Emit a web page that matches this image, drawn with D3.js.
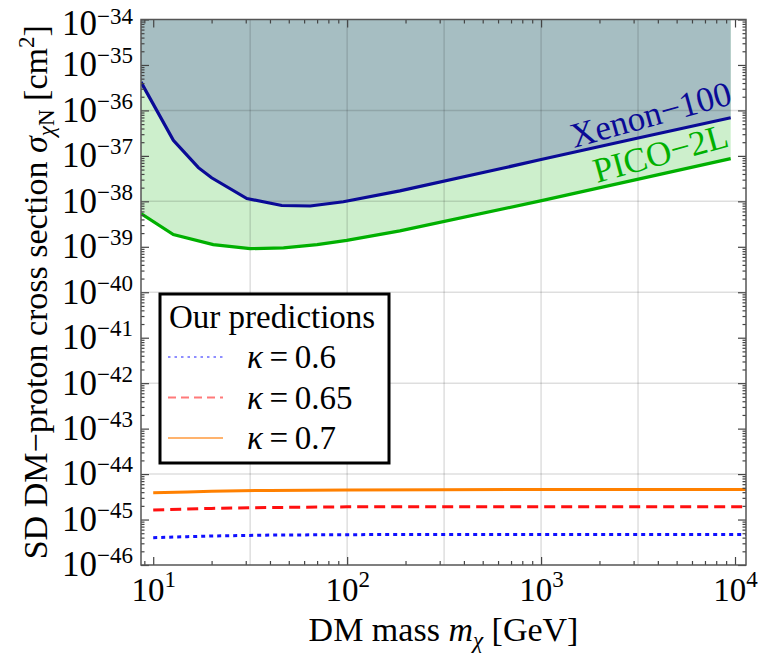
<!DOCTYPE html>
<html><head><meta charset="utf-8">
<script src="https://cdn.jsdelivr.net/npm/d3@7"></script>
<style>body{margin:0;background:#fff}svg{display:block}text{font-family:"Liberation Serif","Times New Roman",serif}</style>
</head><body><svg id="c" width="758" height="658"></svg>
<script>
// ---- data ----
const xenonMass  = [8.65, 12.7, 17.1, 20, 30.4, 46, 64.5, 95.6, 187, 615, 1000, 3000, 9500];
const xenonSigma = [4.2e-36, 2.2e-37, 5.5e-38, 3.3e-38, 1.15e-38, 8.1e-39, 7.9e-39, 9.8e-39, 1.7e-38, 5.2e-38, 8.3e-38, 2.35e-37, 6.9e-37];
const picoMass   = [8.65, 12.7, 20.4, 31.6, 47, 70, 99.5, 187, 1020, 9500];
const picoSigma  = [5.4e-39, 1.86e-39, 1.12e-39, 9.1e-40, 9.5e-40, 1.12e-39, 1.38e-39, 2.24e-39, 1.05e-38, 8.7e-38];
const predMass   = [10, 15, 20, 40, 100, 300, 1000, 3000, 12000];
const kappa06    = [4.0e-46, 4.2e-46, 4.35e-46, 4.55e-46, 4.65e-46, 4.7e-46, 4.7e-46, 4.7e-46, 4.7e-46];
const kappa065   = [1.62e-45, 1.7e-45, 1.76e-45, 1.84e-45, 1.9e-45, 1.92e-45, 1.92e-45, 1.92e-45, 1.92e-45];
const kappa07    = [3.9e-45, 4.05e-45, 4.2e-45, 4.38e-45, 4.48e-45, 4.55e-45, 4.57e-45, 4.57e-45, 4.57e-45];
const xMajor = [10, 100, 1000, 10000];
const yMajorExp = [-46,-45,-44,-43,-42,-41,-40,-39,-38,-37,-36,-35,-34];
const xGrid = [31.62, 100, 316.2, 1000, 3162];
const yGridExp = [-44,-42,-40,-38,-36];
const legendLabels = ["0.6", "0.65", "0.7"];

const FS = 34, FSS = 23;
const svg = d3.select("#c");
const L=141, R=746, T=19.5, B=565;
const x = d3.scaleLog().domain([8.65, 11394]).range([L, R]);
const y = d3.scaleLog().domain([1e-46, 1e-34]).range([B, T]);

svg.append("defs").append("clipPath").attr("id","clip")
  .append("rect").attr("x",L).attr("y",T).attr("width",R-L).attr("height",B-T);
const plot = svg.append("g").attr("clip-path","url(#clip)");

const zip = (a,b)=>a.map((v,i)=>[v,b[i]]);
const xen = zip(xenonMass, xenonSigma), pico = zip(picoMass, picoSigma);

const areaTop = d3.area().x(d=>x(d[0])).y0(T).y1(d=>y(d[1]));
plot.append("path").datum(pico).attr("d",areaTop).attr("fill","#cdefcc");
plot.append("path").datum(xen).attr("d",areaTop).attr("fill","#a6bec2");

// grid
plot.selectAll(".gx").data(xGrid).enter().append("line")
  .attr("x1",d=>x(d)).attr("x2",d=>x(d)).attr("y1",T).attr("y2",B)
  .attr("stroke","rgba(0,0,0,0.13)").attr("stroke-width",1.5);
plot.selectAll(".gy").data(yGridExp).enter().append("line")
  .attr("y1",d=>y(Math.pow(10,d))).attr("y2",d=>y(Math.pow(10,d))).attr("x1",L).attr("x2",R)
  .attr("stroke","rgba(0,0,0,0.13)").attr("stroke-width",1.5);

const line = d3.line().x(d=>x(d[0])).y(d=>y(d[1]));
plot.append("path").datum(pico).attr("d",line).attr("fill","none").attr("stroke","#00b000").attr("stroke-width",3.2);
plot.append("path").datum(xen).attr("d",line).attr("fill","none").attr("stroke","#0a0a96").attr("stroke-width",3.2);

plot.append("path").datum(zip(predMass,kappa07)).attr("d",line).attr("fill","none").attr("stroke","#ff8000").attr("stroke-width",3);
plot.append("path").datum(zip(predMass,kappa065)).attr("d",line).attr("fill","none").attr("stroke","#ff1010").attr("stroke-width",3).attr("stroke-dasharray","11,6");
plot.append("path").datum(zip(predMass,kappa06)).attr("d",line).attr("fill","none").attr("stroke","#1010ff").attr("stroke-width",3).attr("stroke-dasharray","4,4");

// annotations
function rotText(px,py,ang,txt,col){
  svg.append("text").attr("transform",`translate(${px},${py}) rotate(${ang})`)
    .attr("font-size",35).attr("fill",col).text(txt);
}
rotText(574,148,-15.5,"Xenon\u2212100","#0a0a96");
rotText(597,183,-15.5,"PICO\u22122L","#00b000");

// axes ticks
const minorX = [];
for (let e=0;e<=4;e++) for (let m=1;m<10;m++){const v=m*Math.pow(10,e); if(m>1 && v>=8.65 && v<=11394) minorX.push(v);}
const minorY = [];
for (let e=-46;e<-34;e++) for (let m=2;m<10;m++) minorY.push(m*Math.pow(10,e));
const yMajor = yMajorExp.map(e=>Math.pow(10,e));

function styleAxis(g){ g.select(".domain").remove(); g.selectAll("line").attr("stroke","#444").attr("stroke-width",1.2); }

const supLabel = (sel, base, exp, up) => { sel.text(null); sel.append("tspan").text(base); sel.append("tspan").attr("font-size",FSS).attr("dy",-up).text(exp); };

const gxB = svg.append("g").attr("transform",`translate(0,${B})`)
  .call(d3.axisBottom(x).tickValues(xMajor).tickSizeInner(-8).tickSizeOuter(0).tickPadding(0).tickFormat(d=>d));
styleAxis(gxB);
gxB.selectAll("text").attr("font-size",33).attr("fill","#000").attr("dy",null).attr("y",36).attr("dx",null)
  .each(function(d){ supLabel(d3.select(this),"10",String(Math.round(Math.log10(d))),14); })
  .attr("text-anchor","middle");
svg.append("g").attr("transform",`translate(0,${B})`).call(d3.axisBottom(x).tickValues(minorX).tickSize(-4).tickFormat("")).call(styleAxis);
svg.append("g").attr("transform",`translate(0,${T})`).call(d3.axisTop(x).tickValues(xMajor).tickSize(-8).tickFormat("")).call(styleAxis);
svg.append("g").attr("transform",`translate(0,${T})`).call(d3.axisTop(x).tickValues(minorX).tickSize(-4).tickFormat("")).call(styleAxis);

const gyL = svg.append("g").attr("transform",`translate(${L},0)`)
  .call(d3.axisLeft(y).tickValues(yMajor).tickSizeInner(-8).tickSizeOuter(0).tickPadding(8).tickFormat(d=>d));
styleAxis(gyL);
gyL.selectAll("text").attr("font-size",35).attr("fill","#000").attr("dy","0.31em")
  .each(function(d){
    const e = Math.round(Math.log10(d));
    const top = (e === -34);
    if (top) d3.select(this).attr("y", 4);
    supLabel(d3.select(this),"10","\u2212"+String(-e), top ? 11 : 13);
  });
svg.append("g").attr("transform",`translate(${L},0)`).call(d3.axisLeft(y).tickValues(minorY).tickSize(-3.5).tickFormat("")).call(styleAxis);
svg.append("g").attr("transform",`translate(${R},0)`).call(d3.axisRight(y).tickValues(yMajor).tickSize(-8).tickFormat("")).call(styleAxis);
svg.append("g").attr("transform",`translate(${R},0)`).call(d3.axisRight(y).tickValues(minorY).tickSize(-3.5).tickFormat("")).call(styleAxis);

// frame
svg.append("rect").attr("x",L).attr("y",T).attr("width",R-L).attr("height",B-T)
  .attr("fill","none").attr("stroke","#555").attr("stroke-width",1.5);

// axis titles
const xt = svg.append("text").attr("x",(L+R)/2).attr("y",641).attr("text-anchor","middle").attr("font-size",FS);
xt.append("tspan").text("DM mass ");
xt.append("tspan").attr("font-style","italic").text("m");
xt.append("tspan").attr("font-style","italic").attr("font-size",FSS).attr("dy",7).text("\u03c7");
xt.append("tspan").attr("dy",-7).text(" [GeV]");

const yt = svg.append("text").attr("transform",`translate(47,${(T+B)/2}) rotate(-90)`).attr("text-anchor","middle").attr("font-size",FS);
yt.append("tspan").text("SD DM\u2212proton cross section ");
yt.append("tspan").attr("font-style","italic").text("\u03c3");
yt.append("tspan").attr("font-style","italic").attr("font-size",FSS).attr("dy",7).text("\u03c7");
yt.append("tspan").attr("font-size",FSS).text("N");
yt.append("tspan").attr("dy",-7).text(" [cm");
yt.append("tspan").attr("font-size",FSS).attr("dy",-13).text("2");
yt.append("tspan").attr("dy",13).text("]");

// legend
const lg = svg.append("g");
lg.append("rect").attr("x",160).attr("y",294).attr("width",229).attr("height",169)
  .attr("fill","#fff").attr("stroke","#000").attr("stroke-width",3);
lg.append("text").attr("x",169).attr("y",328).attr("font-size",33).text("Our predictions");
const legStyles = [
  {c:"#6a6aff", w:1.5, d:"2.5,4"},
  {c:"#ff7a7a", w:1.8, d:"8,5"},
  {c:"#ff9a3c", w:1.5, d:null}
];
legendLabels.forEach((lab,i)=>{
  const ly = 357 + i*40.5;
  const s = legStyles[i];
  const ln = lg.append("line").attr("x1",168).attr("x2",223).attr("y1",ly).attr("y2",ly)
    .attr("stroke",s.c).attr("stroke-width",s.w);
  if (s.d) ln.attr("stroke-dasharray",s.d);
  const t = lg.append("text").attr("x",247).attr("y",ly+11).attr("font-size",33);
  t.append("tspan").attr("font-style","italic").text("\u03ba");
  t.append("tspan").text("\u2009=\u2009" + lab);
});
</script></body></html>
